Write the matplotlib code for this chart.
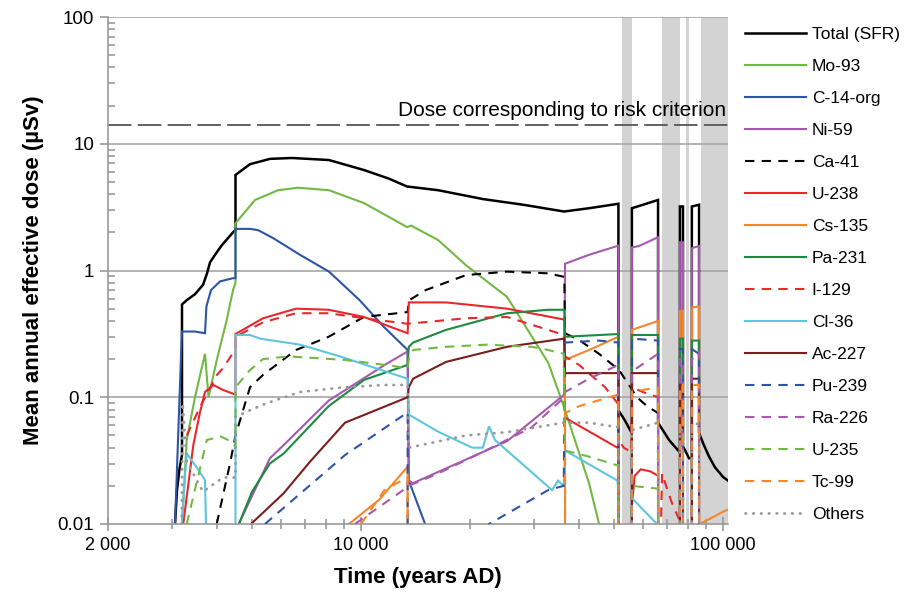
import matplotlib
matplotlib.use("Agg")
import matplotlib.pyplot as plt

plt.rcParams["font.family"] = ["Liberation Sans", "DejaVu Sans"]

# ---- data (years AD, mean annual effective dose in µSv); 0.001 = below axis ----
total_x = [3063, 3102, 3150, 3202, 3202, 3305, 3478, 3660, 3755, 3827, 3951, 4130, 4430, 4500, 4500,
           4936, 5605, 6445, 8155, 10195, 11949, 13400, 16325, 21730, 28100, 36370, 42640, 51400, 51400,
           53500, 56000, 56000, 66140, 66140, 70930, 75800, 76000, 76000, 77500, 77500, 80560, 82000,
           82000, 85850, 85850, 88500, 91490, 95000, 100000, 103200]
total_y = [0.01, 0.0185, 0.027, 0.035, 0.54, 0.585, 0.65, 0.77, 0.95, 1.16, 1.33, 1.59, 2.0, 2.09, 5.67,
           6.9, 7.6, 7.72, 7.44, 6.2, 5.3, 4.6, 4.3, 3.66, 3.3, 2.92, 3.1, 3.36, 0.079,
           0.066, 0.052, 3.1, 3.6, 0.063, 0.046, 0.037, 0.037, 3.2, 3.2, 0.041, 0.033, 0.033,
           3.2, 3.3, 0.052, 0.042, 0.034, 0.028, 0.0235, 0.022]

mo93_x = [3202, 3300, 3478, 3707, 3790, 4000, 4250, 4430, 4500, 4500, 5095, 5900, 6700, 8155, 10195,
          13400, 13750, 16325, 19500, 25300, 32900, 36300, 42640, 45450]
mo93_y = [0.01, 0.046, 0.1, 0.22, 0.1, 0.2, 0.4, 0.7, 0.8, 2.36, 3.6, 4.3, 4.5, 4.3, 3.4,
          2.2, 2.26, 1.74, 1.1, 0.62, 0.187, 0.085, 0.021, 0.01]

c14_x = [3063, 3200, 3478, 3707, 3740, 3850, 4078, 4430, 4500, 4500, 4936, 5200, 5720, 6783, 8155,
         9900, 11550, 13450, 13550, 15030]
c14_y = [0.01, 0.33, 0.33, 0.32, 0.52, 0.7, 0.82, 0.87, 0.87, 2.13, 2.13, 2.08, 1.8, 1.33, 0.98,
         0.585, 0.36, 0.236, 0.022, 0.01]

ni59_x = [4595, 5600, 6115, 8137, 11630, 13450, 13550, 13920, 25310, 36440, 36600, 42640, 51400, 51400,
          56000, 56000, 58600, 66140, 66140, 76000, 76000, 77500, 77500, 82000, 82000, 85850, 85850]
ni59_y = [0.01, 0.033, 0.042, 0.094, 0.18, 0.23, 0.022, 0.021, 0.045, 0.105, 1.13, 1.33, 1.57, 0.001,
          0.001, 1.52, 1.56, 1.83, 0.001, 0.001, 1.67, 1.67, 0.001, 0.001, 1.5, 1.56, 0.001]

ca41_x = [3993, 4346, 4500, 4936, 5360, 6613, 8137, 10190, 13450, 13550, 15080, 19500, 25310, 32860,
          36440, 36600, 40010, 45450, 51610, 57860, 61660, 66140]
ca41_y = [0.01, 0.03, 0.05, 0.12, 0.15, 0.236, 0.30, 0.43, 0.47, 0.58, 0.70, 0.92, 0.98, 0.95,
          0.89, 0.32, 0.283, 0.22, 0.164, 0.1, 0.085, 0.075]

u238_x = [3228, 3441, 3590, 3707, 3908, 4160, 4500, 4500, 5360, 6613, 8137, 10190, 13450, 13550, 17170,
          25310, 36440, 36600, 51070, 51400, 51400, 56000, 56000, 57000, 59250, 63000, 66140, 66140]
u238_y = [0.01, 0.042, 0.076, 0.11, 0.125, 0.114, 0.105, 0.315, 0.42, 0.50, 0.49, 0.43, 0.32, 0.56, 0.56,
          0.50, 0.41, 0.069, 0.04, 0.04, 0.001, 0.001, 0.014, 0.024, 0.027, 0.026, 0.024, 0.001]

cs135_x = [9262, 11212, 13450, 13450, 36600, 36600, 42640, 51400, 51400, 56000, 56000, 66140, 66140,
           76000, 76000, 77500, 77500, 82000, 82000, 85850, 85850, 87500, 100000, 103200]
cs135_y = [0.01, 0.0155, 0.0284, 0.001, 0.001, 0.197, 0.236, 0.30, 0.001, 0.001, 0.34, 0.40, 0.001,
           0.001, 0.48, 0.48, 0.001, 0.001, 0.51, 0.52, 0.001, 0.0102, 0.0125, 0.013]

pa231_x = [4600, 5000, 5600, 6115, 8137, 10190, 13450, 13550, 13920, 17170, 25310, 32860, 36440, 36600,
           51070, 51400, 51400, 56000, 56000, 66140, 66140, 76000, 76000, 77500, 77500, 82000, 82000,
           85850, 85850]
pa231_y = [0.01, 0.018, 0.03, 0.036, 0.085, 0.137, 0.18, 0.25, 0.27, 0.34, 0.46, 0.49, 0.49, 0.30,
           0.315, 0.32, 0.001, 0.001, 0.31, 0.31, 0.001, 0.001, 0.29, 0.29, 0.001, 0.001, 0.28,
           0.28, 0.001]

i129_x = [3300, 3600, 4000, 4160, 4500, 4500, 5360, 6613, 8137, 10190, 13450, 19500, 25310, 32860,
          36300, 36600, 40010, 47210, 51400, 51400, 53200, 55700, 56000, 60000, 66140, 66140, 67850,
          72000, 75500]
i129_y = [0.05, 0.085, 0.15, 0.17, 0.24, 0.3, 0.39, 0.46, 0.46, 0.42, 0.38, 0.42, 0.43, 0.34,
          0.31, 0.21, 0.18, 0.12, 0.088, 0.046, 0.04, 0.037, 0.12, 0.11, 0.1, 0.001, 0.025,
          0.015, 0.011]

cl36_x = [3197, 3299, 3516, 3707, 3730, 3731, 4500, 4500, 4936, 5260, 6783, 8750, 13450, 13550, 16430,
          20300, 21700, 22570, 23440, 33700, 35000, 36300, 36600, 51070, 51400, 51400, 56000, 56000,
          66140]
cl36_y = [0.01, 0.036, 0.028, 0.0222, 0.01, 0.001, 0.001, 0.31, 0.31, 0.29, 0.26, 0.21, 0.14, 0.073,
          0.053, 0.04, 0.04, 0.059, 0.046, 0.0185, 0.022, 0.02, 0.038, 0.022, 0.0185, 0.001, 0.001,
          0.016, 0.0098]

ac227_x = [4966, 6115, 7228, 9031, 13450, 13550, 13920, 17170, 25310, 36440, 36600, 51400, 51400, 56000,
           56000, 66140, 66140, 76000, 76000, 77500, 77500, 82000, 82000, 85850, 85850]
ac227_y = [0.01, 0.0175, 0.031, 0.063, 0.1, 0.12, 0.14, 0.19, 0.25, 0.29, 0.155, 0.155, 0.001, 0.001,
           0.155, 0.155, 0.001, 0.001, 0.125, 0.125, 0.001, 0.001, 0.14, 0.14, 0.001]

pu239_x = [5428, 9031, 13450, 13450, 22570, 32860, 36300, 36600, 45450, 51400, 51400, 56000, 56000,
           66140, 66140, 76000, 76000, 77500, 77500, 82000, 82000, 85850, 85850]
pu239_y = [0.01, 0.035, 0.076, 0.001, 0.01, 0.0185, 0.02, 0.27, 0.28, 0.27, 0.001, 0.001, 0.29,
           0.28, 0.001, 0.001, 0.24, 0.24, 0.001, 0.001, 0.24, 0.22, 0.001]

ra226_x = [9623, 13450, 13550, 16300, 22290, 29620, 36440, 36600, 42640, 51400, 51400, 56000, 56000,
           66140, 66140, 76000, 76000, 77500, 77500, 82000, 82000, 85850, 85850]
ra226_y = [0.01, 0.0196, 0.02, 0.025, 0.0384, 0.058, 0.1, 0.11, 0.14, 0.18, 0.001, 0.001, 0.16,
           0.22, 0.001, 0.001, 0.2, 0.2, 0.001, 0.001, 0.2, 0.23, 0.001]

u235_x = [3300, 3750, 4100, 4430, 4500, 4500, 4936, 5360, 6300, 9031, 11630, 13450, 13550, 13920,
          17170, 22290, 29620, 32860, 36300, 36600, 42640, 51070, 51400, 51400, 56000, 56000, 66140, 66140]
u235_y = [0.01, 0.046, 0.049, 0.044, 0.04, 0.12, 0.164, 0.2, 0.21, 0.197, 0.18, 0.17, 0.2, 0.236,
          0.25, 0.26, 0.25, 0.236, 0.22, 0.038, 0.034, 0.029, 0.028, 0.001, 0.001, 0.02, 0.019, 0.001]

tc99_x = [10000, 11600, 13450, 13450, 36600, 36600, 40010, 48430, 51400, 51400, 56000, 56000, 66140,
          66140, 76000, 76000, 77500, 77500, 82000, 82000, 85850, 85850]
tc99_y = [0.01, 0.0185, 0.0234, 0.001, 0.001, 0.075, 0.085, 0.1, 0.105, 0.001, 0.001, 0.11, 0.12,
          0.001, 0.001, 0.125, 0.125, 0.001, 0.001, 0.125, 0.125, 0.001]

others_x = [3197, 3215, 3300, 3660, 4160, 4500, 4500, 4936, 5500, 6783, 9031, 11600, 13450, 13550,
            19500, 25310, 36300, 42640, 51400, 51400, 56000, 56000, 66140, 66140, 76000, 76000, 77500,
            77500, 82000, 82000, 85850, 85850]
others_y = [0.01, 0.09, 0.031, 0.018, 0.0233, 0.0233, 0.07, 0.079, 0.09, 0.11, 0.12, 0.125, 0.125, 0.04,
            0.05, 0.053, 0.063, 0.063, 0.058, 0.001, 0.001, 0.055, 0.063, 0.001, 0.001, 0.055, 0.055,
            0.001, 0.001, 0.058, 0.063, 0.001]

# shaded periods (years AD)
band_starts = [52600, 67850, 79000, 86750]
band_ends = [56060, 75900, 80560, 103200]

risk_dose = 14.0

x_ticks = [2000, 10000, 100000]
x_tick_labels = ["2 000", "10 000", "100 000"]
y_ticks = [0.01, 0.1, 1, 10, 100]
y_tick_labels = ["0.01", "0.1", "1", "10", "100"]

# label, x, y, colour, linestyle
series = [
    ("Total (SFR)", total_x, total_y, "black", "-"),
    ("Mo-93", mo93_x, mo93_y, "#72B844", "-"),
    ("C-14-org", c14_x, c14_y, "#2D54A6", "-"),
    ("Ni-59", ni59_x, ni59_y, "#A659AE", "-"),
    ("Ca-41", ca41_x, ca41_y, "black", "--"),
    ("U-238", u238_x, u238_y, "#E8282B", "-"),
    ("Cs-135", cs135_x, cs135_y, "#F5872B", "-"),
    ("Pa-231", pa231_x, pa231_y, "#1C8A3F", "-"),
    ("I-129", i129_x, i129_y, "#E8282B", "--"),
    ("Cl-36", cl36_x, cl36_y, "#5EC5DE", "-"),
    ("Ac-227", ac227_x, ac227_y, "#7C1C1C", "-"),
    ("Pu-239", pu239_x, pu239_y, "#2D54A6", "--"),
    ("Ra-226", ra226_x, ra226_y, "#A659AE", "--"),
    ("U-235", u235_x, u235_y, "#72B844", "--"),
    ("Tc-99", tc99_x, tc99_y, "#F5872B", "--"),
    ("Others", others_x, others_y, "#999999", ":"),
]

fig = plt.figure(figsize=(9.21, 5.99), dpi=100)
ax = fig.add_axes([108 / 921, 1 - 524 / 599, (728 - 108) / 921, (524 - 17) / 599])
ax.set_xscale("log")
ax.set_yscale("log")
ax.set_xlim(2000, 103200)
ax.set_ylim(0.01, 100)

for s, e in zip(band_starts, band_ends):
    ax.axvspan(s, e, color="#d3d3d3", lw=0, zorder=0.5)

for yv in y_ticks[1:]:
    ax.axhline(yv, color="#a6a6a6", lw=1.2, zorder=1)

ax.axhline(risk_dose, color="#555555", lw=1.3, dashes=(13, 3.5), zorder=1.5)
ax.text(102000, risk_dose * 1.1, "Dose corresponding to risk criterion", ha="right", va="bottom",
        fontsize=15, color="black", zorder=3)

for i, (label, xs, ys, col, ls) in enumerate(series):
    lw = 1.8 if label == "Total (SFR)" else 1.5
    kw = dict(color=col, lw=lw, label=label, zorder=2 + i * 0.05, solid_joinstyle="miter")
    if ls == "--":
        line, = ax.plot(xs, ys, **kw)
        line.set_dashes((4.5, 3.5))
    elif ls == ":":
        line, = ax.plot(xs, ys, dash_capstyle="round", **{**kw, "lw": 2.0})
        line.set_dashes((0.2, 2.6))
    else:
        ax.plot(xs, ys, **kw)

for side in ["top", "right"]:
    ax.spines[side].set_visible(False)
for side in ["left", "bottom"]:
    ax.spines[side].set_color("#999999")
    ax.spines[side].set_linewidth(1.2)

ax.set_xticks(x_ticks)
ax.set_xticklabels(x_tick_labels)
ax.set_xticks([m * 10 ** k for k in (3, 4) for m in range(2, 10) if m * 10 ** k not in x_ticks], minor=True)
ax.set_yticks(y_ticks)
ax.set_yticklabels(y_tick_labels)
ax.set_yticks([m * 10.0 ** k for k in range(-2, 2) for m in range(2, 10)], minor=True)
ax.set_xticklabels([], minor=True)
ax.set_yticklabels([], minor=True)

ax.tick_params(axis="x", which="major", direction="inout", length=10, width=1.2, color="#999999",
               labelsize=13, pad=4)
ax.tick_params(axis="x", which="minor", direction="inout", length=7, width=1.2, color="#999999")
ax.tick_params(axis="y", which="major", direction="out", length=6, width=1.2, color="#999999",
               labelsize=13.5, pad=4)
ax.tick_params(axis="y", which="minor", direction="in", length=5, width=1.2, color="#999999")

ax.set_xlabel("Time (years AD)", fontsize=16, fontweight="bold", labelpad=10)
ax.set_ylabel("Mean annual effective dose (µSv)", fontsize=16, fontweight="bold", labelpad=10)

ax.legend(loc="upper left", bbox_to_anchor=(745 / 921, 1 - 27 / 599), bbox_transform=fig.transFigure,
          frameon=False, fontsize=12.5, handlelength=3.5, handletextpad=0.35, labelspacing=0.97,
          borderpad=0, borderaxespad=0)

fig.savefig("out.png", dpi=100)
